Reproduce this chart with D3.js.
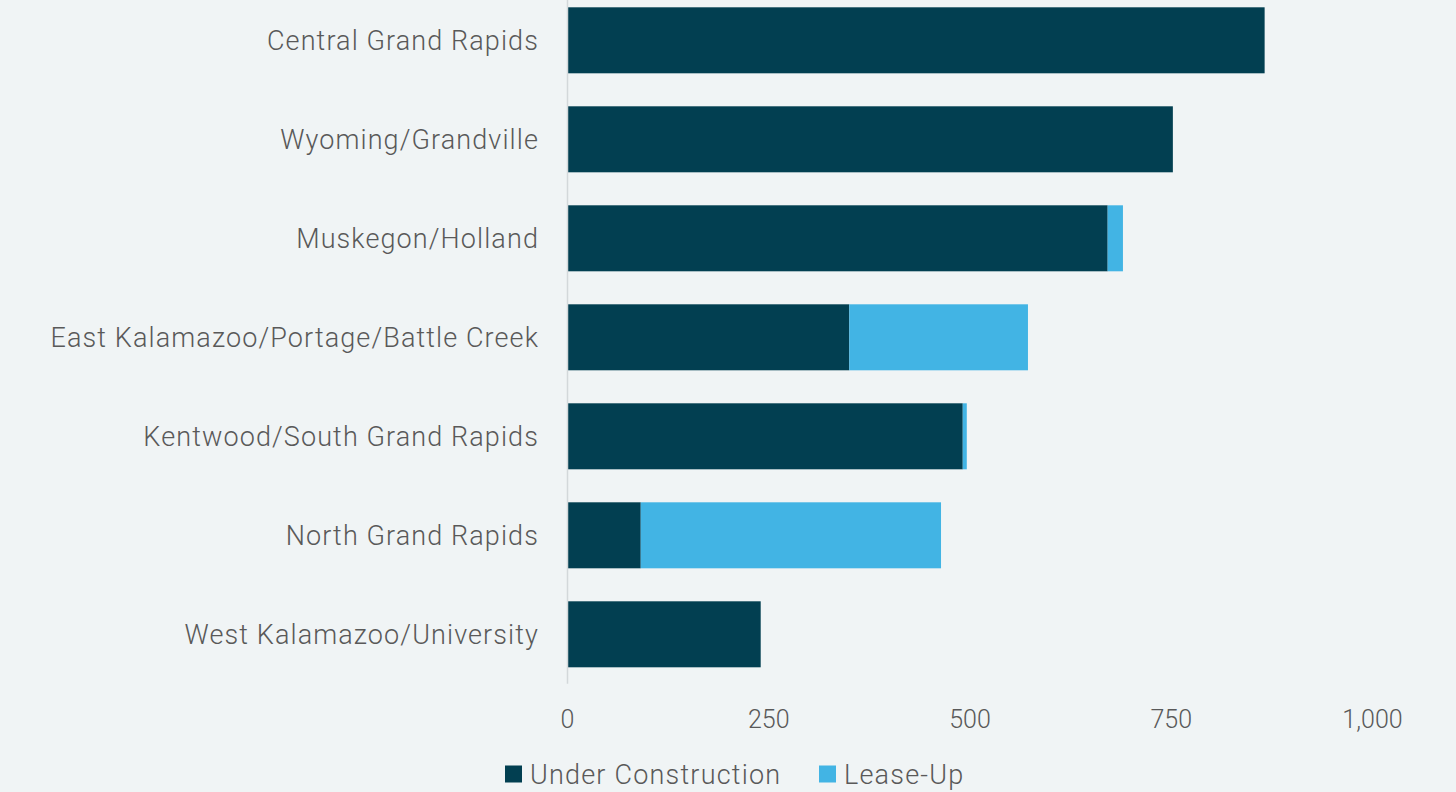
<!DOCTYPE html>
<html><head><meta charset="utf-8">
<script src="https://cdn.jsdelivr.net/npm/d3@7"></script>
<style>
html,body{margin:0;padding:0;background:#f0f4f5;}
svg{display:block;}
text{font-family:Roboto, "Noto Sans", sans-serif;font-weight:300;fill:#595959;}
</style></head>
<body>
<svg id="chart" width="1456" height="792"></svg>
<script>
const categories = ["Central Grand Rapids","Wyoming/Grandville","Muskegon/Holland","East Kalamazoo/Portage/Battle Creek","Kentwood/South Grand Rapids","North Grand Rapids","West Kalamazoo/University"];
const underConstruction = [866, 752, 671, 350, 491, 91, 240];
const leaseUp = [0, 0, 19, 222, 5, 373, 0];
const seriesNames = ["Under Construction","Lease-Up"];
const tickValues = [0, 250, 500, 750, 1000];

const colors = ["#023f51", "#42b4e4"];
const svg = d3.select("#chart");
svg.append("rect").attr("width",1456).attr("height",792).attr("fill","#f0f4f5");

const x = d3.scaleLinear().domain([0,1000]).range([567.5,1372.5]);
const y = d3.scaleBand().domain(categories).range([-9.2,683.8]).paddingInner(1/3).paddingOuter(1/6);

const rows = categories.map((c,i)=>({cat:c, uc:underConstruction[i], lu:leaseUp[i]}));
const stacked = d3.stack().keys(["uc","lu"])(rows);

const g = svg.append("g");
stacked.forEach((s,si)=>{
  g.selectAll(null).data(s).join("rect")
    .attr("x", d=>x(d[0]))
    .attr("y", d=>y(d.data.cat))
    .attr("width", d=>Math.max(0,x(d[1])-x(d[0])))
    .attr("height", y.bandwidth())
    .attr("fill", colors[si]);
});

// vertical axis line
svg.append("line").attr("x1",x(0)).attr("x2",x(0)).attr("y1",y.range()[0]).attr("y2",y.range()[1])
  .attr("stroke","#d3d8da").attr("stroke-width",1.5);

// category labels
svg.selectAll(".cat").data(categories).join("text")
  .attr("class","cat")
  .attr("x", 539).attr("y", d=>y(d)+y.bandwidth()/2+1)
  .attr("text-anchor","end").attr("dominant-baseline","central")
  .style("font-size","27px").style("letter-spacing","1.1px").text(d=>d);

// x tick labels
svg.selectAll(".tick").data(tickValues).join("text")
  .attr("class","tick")
  .attr("x", d=>x(d)).attr("y", 719)
  .attr("text-anchor","middle").attr("dominant-baseline","central")
  .style("font-size","25px").text(d=>d3.format(",")(d));

// legend
const legX = [505, 819];
const leg = svg.selectAll(".leg").data(seriesNames).join("g").attr("class","leg")
  .attr("transform",(d,i)=>`translate(${legX[i]},774)`);
leg.append("rect").attr("x",0).attr("y",-8.5).attr("width",17).attr("height",17).attr("fill",(d,i)=>colors[i]);
leg.append("text").attr("x",25).attr("y",1).attr("dominant-baseline","central")
  .style("font-size","27px").style("letter-spacing","1.2px").text(d=>d);
</script>
</body></html>
